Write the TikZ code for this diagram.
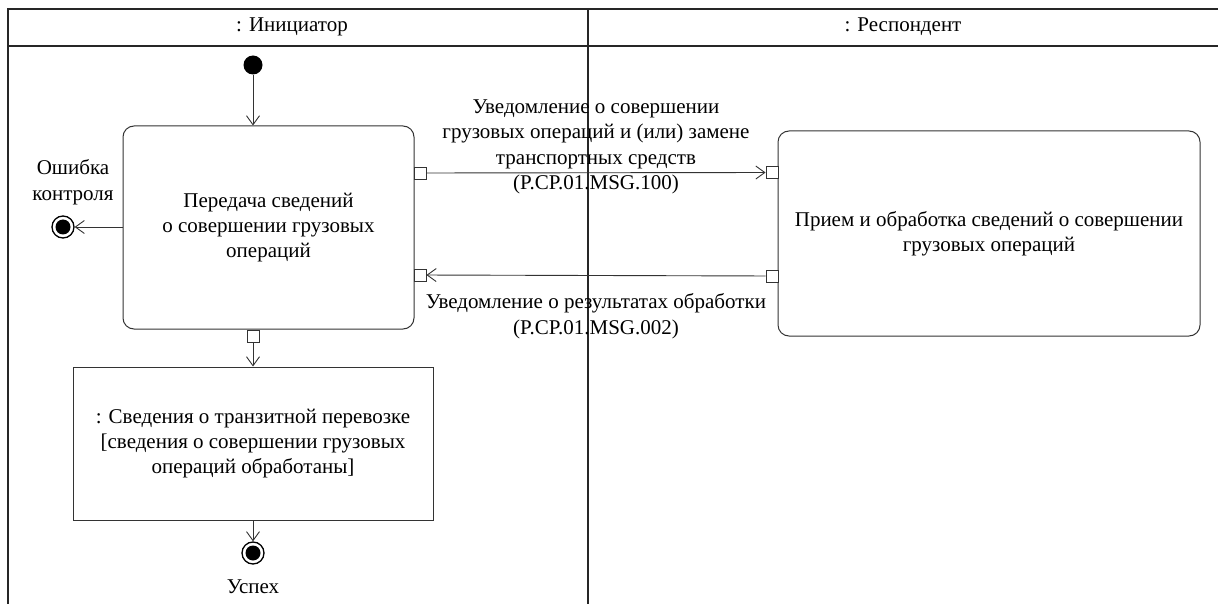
\documentclass[tikz,border=0pt]{standalone}
\usepackage{fontspec}
\setmainfont{Liberation Serif}
\usetikzlibrary{arrows.meta}
\tikzset{
  x=1pt, y=-1pt,
  frameline/.style={line width=1.4pt, draw=black!85},
  conn/.style={line width=0.9pt, draw=black!80, -{Straight Barb[length=9pt,width=13pt,line width=0.9pt]}},
  actbox/.style={draw=black!80, line width=1pt, rounded corners=11pt, align=center, inner sep=0pt, font=\fontsize{21}{25}\selectfont},
  objbox/.style={draw=black!80, line width=1pt, align=center, inner sep=0pt, font=\fontsize{21}{25}\selectfont},
  pinbox/.style={draw=black!80, line width=0.9pt, fill=white, minimum width=12pt, minimum height=12pt, inner sep=0pt},
  lbl/.style={align=center, inner sep=0pt, font=\fontsize{21}{25.5}\selectfont},
  hdr/.style={inner sep=0pt, font=\fontsize{21}{24}\selectfont},
  initnode/.style={circle, fill=black, minimum size=19pt, inner sep=0pt},
  finalnode/.style={circle, draw=black, line width=1.3pt, fill=white, minimum size=22pt, inner sep=0pt, path picture={\fill[black] (path picture bounding box.center) circle (7.5pt);}},
}
\begin{document}
\begin{tikzpicture}
\useasboundingbox (0,0) rectangle (1218,604);
% swimlane frame
\draw[frameline] (8,604) -- (8,9) -- (1218,9);
\draw[frameline] (8,46) -- (1218,46);
\draw[frameline] (588,9) -- (588,604);
\node[hdr] (h1) at (292,27) {: Инициатор};
\node[hdr] (h2) at (903,27) {: Респондент};

% nodes
\node[initnode] (start) at (253,65) {};
\node[actbox, minimum width=291pt, minimum height=203pt] (act1) at (268.5,227.5) {Передача сведений\\о совершении грузовых\\операций};
\node[actbox, minimum width=422pt, minimum height=205pt] (act2) at (989,233.5) {Прием и обработка сведений о совершении\\грузовых операций};
\node[objbox, minimum width=360pt, minimum height=153pt] (obj) at (253,443.5) {: Сведения о транзитной перевозке\\{[}сведения о совершении грузовых\\операций обработаны{]}};
\node[finalnode] (ferr) at (63,227) {};
\node[finalnode] (fok) at (253,553) {};
\node[lbl] (lerr) at (73,182) {Ошибка\\контроля};
\node[lbl] (lok) at (253,587) {Успех};

% pins
\node[pinbox] (p1out) at (420,173) {};
\node[pinbox] (p1in) at (420,275) {};
\node[pinbox] (p2in) at (772,172.5) {};
\node[pinbox] (p2out) at (772,276) {};
\node[pinbox] (p1bot) at (253,336) {};

% connectors
\draw[conn] (start) -- (start |- act1.north);
\draw[conn] (act1.west |- ferr) -- (ferr);
\draw[conn] (p1out) -- (p2in);
\draw[conn] (p2out) -- (p1in);
\draw[conn] (p1bot) -- (obj);
\draw[conn] (obj) -- (fok);

% message labels
\node[lbl] (m1) at (596,147) {Уведомление о совершении\\грузовых операций и (или) замене\\транспортных средств\\(P.CP.01.MSG.100)};
\node[lbl] (m2) at (596,316) {Уведомление о результатах обработки\\(P.CP.01.MSG.002)};
\end{tikzpicture}
\end{document}
